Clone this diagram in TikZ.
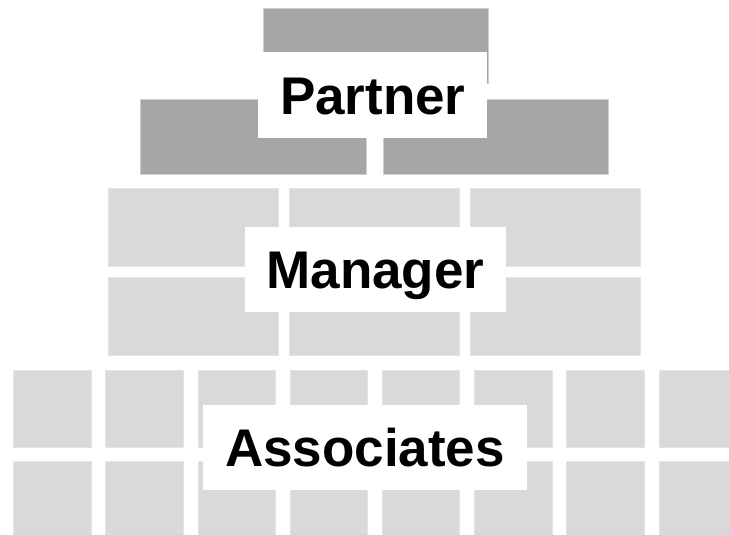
\documentclass[tikz,border=0pt]{standalone}
\usepackage{fontspec}
\setmainfont{Liberation Sans}
\begin{document}
\begin{tikzpicture}[x=1pt,y=-1pt,
  darkbrick/.style={fill=brickdark,draw=brickdarkedge,line width=0.8pt},
  lightbrick/.style={fill=bricklight,draw=bricklightedge,line width=0.8pt},
  labelbox/.style={fill=white,draw=none,inner sep=0pt,text height=38pt,text depth=0pt,
    minimum height=85pt,font=\fontsize{53}{60}\selectfont\bfseries}]
\definecolor{brickdark}{HTML}{A6A6A6}
\definecolor{brickdarkedge}{HTML}{CFCFCF}
\definecolor{bricklight}{HTML}{D9D9D9}
\definecolor{bricklightedge}{HTML}{E4E4E4}
\useasboundingbox (0,0) rectangle (729,535);
% Partner level
\draw[darkbrick] (263.5,8.5) rectangle (488,83);
\draw[darkbrick] (140.5,99) rectangle (366,174);
\draw[darkbrick] (383,99) rectangle (608,174);
% Manager level
\foreach \x in {108.5,289.5,470}{
  \draw[lightbrick] (\x,188.5) rectangle ++(170,78);
  \draw[lightbrick] (\x,277.5) rectangle ++(170,77.5);
}
% Associates level
\foreach \i in {0,...,7}{
  \pgfmathsetmacro{\xx}{13.5+92.2*\i}
  \draw[lightbrick] (\xx,370.5) rectangle ++(77.5,77);
  \draw[lightbrick] (\xx,461) rectangle ++(77.5,78);
}
% Labels
\node[labelbox,minimum width=229pt] (partner) at (372.8,95) {Partner};
\node[labelbox,minimum width=261pt] (manager) at (375.5,269.5) {Manager};
\node[labelbox,minimum width=324pt] (associates) at (365,447.5) {Associates};
\end{tikzpicture}
\end{document}
